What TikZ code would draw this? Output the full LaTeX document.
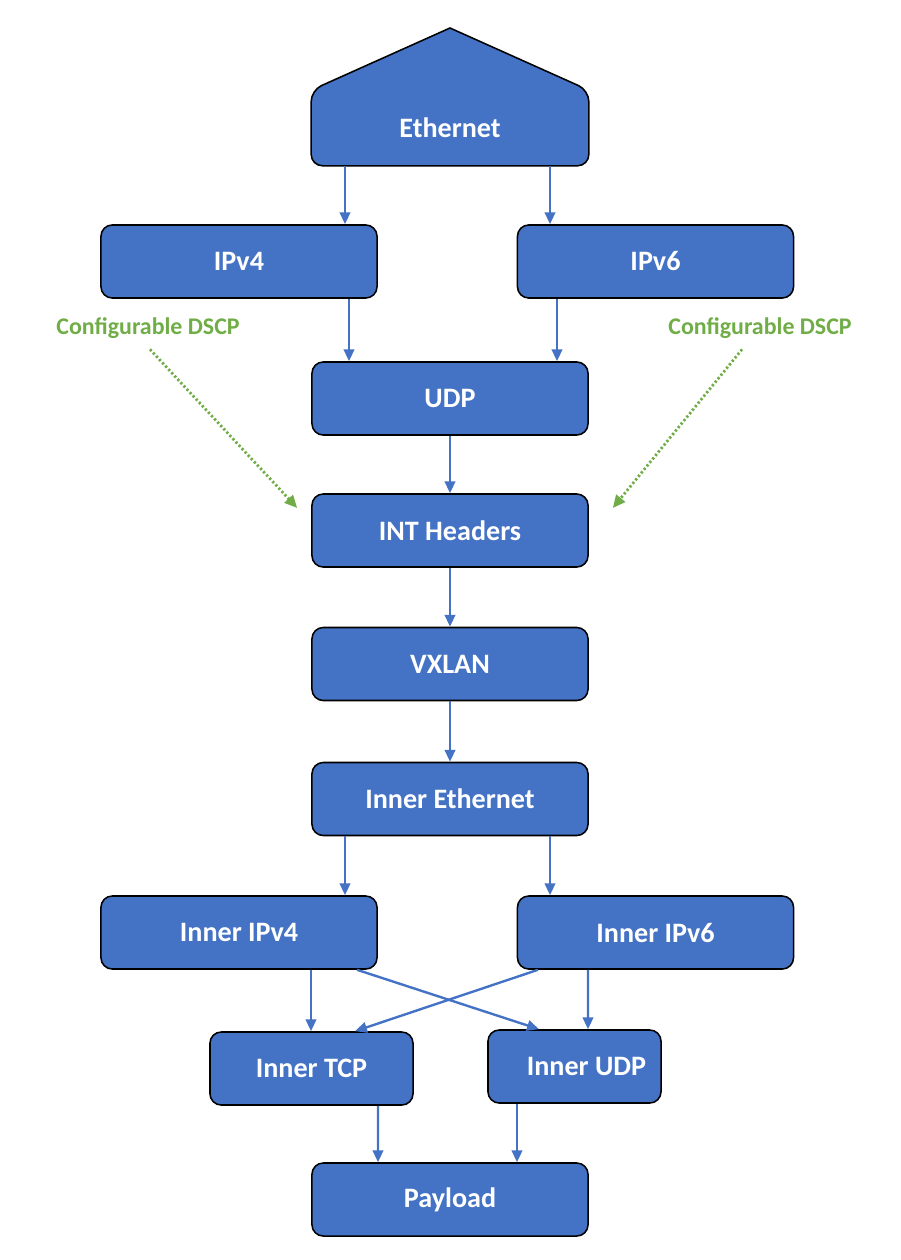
\documentclass[tikz,border=0pt]{standalone}
\usepackage{fontspec}
\setmainfont{Carlito}
\usetikzlibrary{arrows.meta, calc, positioning, backgrounds}

\definecolor{boxblue}{HTML}{4472C4}
\definecolor{dscpgreen}{HTML}{70AD47}

\tikzset{
    box/.style={draw=black, line width=1.1pt, fill=boxblue, rounded corners=8pt,
        minimum width=6.9cm, minimum height=1.825cm, inner sep=0pt,
        text=white, font=\bfseries\fontsize{20}{24}\selectfont},
    link/.style={draw=boxblue, line width=1.7pt, -{Triangle[length=8.5pt, width=7.5pt]}},
    dscp/.style={text=dscpgreen, font=\bfseries\fontsize{17}{20}\selectfont},
    hint/.style={draw=dscpgreen, line width=2pt, dash pattern=on 1.6pt off 1.6pt,
        -{Triangle[length=9pt, width=8pt]}}
}

\begin{document}
\begin{tikzpicture}[x=0.025cm, y=-0.025cm]
    \useasboundingbox (0,0) rectangle (900,1260);

    \node [box, draw=none, fill=none, minimum height=1.85cm] (eth) at (450,128) {Ethernet};
    \coordinate (roof) at (450,28);
    \begin{pgfonlayer}{background}
        \filldraw [fill=boxblue, draw=black, line width=1.1pt]
            (eth.south) [rounded corners=8pt] -- (eth.south west) -- (eth.north west)
            [sharp corners] -- (roof) [rounded corners=8pt] -- (eth.north east)
            -- (eth.south east) -- cycle;
    \end{pgfonlayer}

    \node [box] (ipv4) at (239,261.5) {IPv4};
    \node [box] (ipv6) at (655.5,261.5) {IPv6};
    \node [box] (udp) at (450,398.5) {UDP};
    \node [box] (int) at (450,530.5) {INT Headers};
    \node [box] (vxlan) at (450,664) {VXLAN};
    \node [box] (ieth) at (450,799) {Inner Ethernet};
    \node [box] (iipv4) at (239,932.5) {Inner IPv4};
    \node [box] (iipv6) at (655.5,932.5) {Inner IPv6};
    \node [box, minimum width=5.075cm] (itcp) at (311.5,1068.5) {Inner TCP};
    \node [box, minimum width=4.325cm] (iudp) at (574.5,1066.5) {\hspace*{0.6cm}Inner UDP};
    \node [box] (payload) at (450,1199.5) {Payload};

    \node [dscp] (dscpl) at (148,328) {Configurable DSCP};
    \node [dscp] (dscpr) at (760,328) {Configurable DSCP};

    \draw [link] ($(eth.south)+(-105,0)$) -- ($(ipv4.north)+(106,0)$);
    \draw [link] ($(eth.south)+(100,0)$) -- ($(ipv6.north)+(-105.5,0)$);
    \draw [link] ($(ipv4.south)+(110,0)$) -- ($(udp.north)+(-101,0)$);
    \draw [link] ($(ipv6.south)+(-98.5,0)$) -- ($(udp.north)+(107,0)$);
    \draw [link] (udp) -- (int);
    \draw [link] (int) -- (vxlan);
    \draw [link] (vxlan) -- (ieth);
    \draw [link] ($(ieth.south)+(-105,0)$) -- ($(iipv4.north)+(106,0)$);
    \draw [link] ($(ieth.south)+(100,0)$) -- ($(iipv6.north)+(-105.5,0)$);
    \draw [link] ($(iipv4.south)+(72,0)$) -- ($(itcp.north)+(-0.5,0)$);
    \draw [link] ($(iipv6.south)+(-67.5,0)$) -- ($(iudp.north)+(13.5,0)$);
    \draw [link] ($(iipv4.south)+(118,0)$) -- ($(iudp.north)+(-35.5,0)$);
    \draw [link] ($(iipv6.south)+(-117.5,0)$) -- ($(itcp.north)+(43.5,0)$);
    \draw [link] ($(itcp.south)+(66.5,0)$) -- ($(payload.north)+(-72,0)$);
    \draw [link] ($(iudp.south)+(-57.5,0)$) -- ($(payload.north)+(67,0)$);

    \draw [hint] ($(dscpl.south)+(2,6)$) -- ($(int.west)+(-14,-22.5)$);
    \draw [hint] ($(dscpr.south)+(-18,6)$) -- ($(int.east)+(24,-22.5)$);
\end{tikzpicture}
\end{document}
